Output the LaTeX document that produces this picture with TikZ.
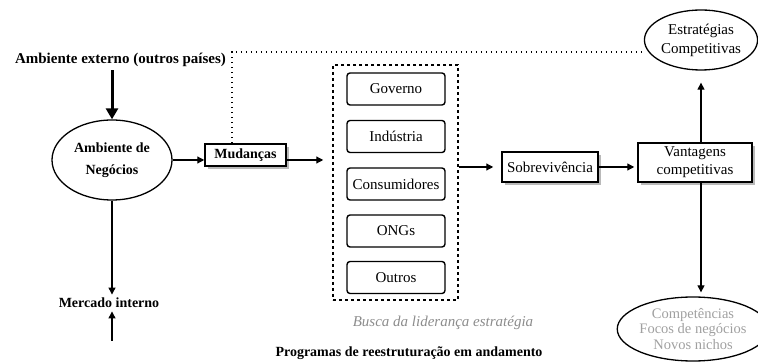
\documentclass[tikz,border=0pt]{standalone}
\usepackage{fontspec}
\setmainfont{Liberation Serif}
\usetikzlibrary{arrows.meta,shapes.geometric,shadows,calc}

\definecolor{softgray}{HTML}{8C8C8C}
\definecolor{lightgray}{HTML}{A0A0A0}

\begin{document}
\begin{tikzpicture}[x=1pt,y=-1pt,
  every node/.style={font=\fontsize{15}{18}\selectfont},
  conn/.style={line width=1.2pt,-{Triangle[length=7pt,width=7pt]}},
  thickconn/.style={line width=3pt,-{Triangle[length=11pt,width=12pt]}},
  dotline/.style={line width=1.5pt,dash pattern=on 1.5pt off 3.5pt},
  shadowbox/.style={draw,line width=1.5pt,fill=white,inner sep=0pt,align=center,
    drop shadow={shadow xshift=3pt,shadow yshift=-3pt,fill=gray!55,opacity=1}},
  actorbox/.style={draw,line width=1.4pt,rounded corners=3pt,inner sep=0pt,
    minimum width=98pt,minimum height=32pt},
  oval/.style={ellipse,draw,line width=1.3pt,inner sep=0pt,align=center},
]
\useasboundingbox (0,0) rectangle (758,363);

% left column: external environment, business environment, domestic market
\node[font=\bfseries\fontsize{15}{18}\selectfont] (ext) at (120.5,60) {Ambiente externo (outros países)};
\node[oval,minimum width=120pt,minimum height=80pt,
      font=\bfseries\fontsize{14}{22}\selectfont] (amb) at (112,160) {Ambiente de\\Negócios};
\node[font=\bfseries\fontsize{14}{17}\selectfont] (merc) at (109,303) {Mercado interno};
\coordinate (mbelow) at (112,341);

\draw[thickconn] (ext.south -| amb.north) -- (amb.north);
\draw[conn] (amb.south) -- (amb.south |- merc.north);
\draw[conn] (mbelow) -- (mbelow |- merc.south);

% changes
\node[shadowbox,minimum width=81pt,minimum height=22pt,
      font=\bfseries\fontsize{14}{17}\selectfont] (mud) at (245.5,155) {Mudanças};
\draw[conn] (amb.east) -- (amb.east -| mud.west);

% group of actors
\node[draw,line width=1.5pt,dash pattern=on 3pt off 3pt,
      minimum width=125pt,minimum height=235pt,inner sep=0pt] (grp) at (395.5,182.5) {};
\node[actorbox] (gov) at (396,89)    {Governo};
\node[actorbox] (ind) at (396,136.5) {Indústria};
\node[actorbox] (con) at (396,184)   {Consumidores};
\node[actorbox] (ong) at (396,231)   {ONGs};
\node[actorbox] (out) at (396,277.5) {Outros};
\draw[conn,shorten >=9pt] (mud.east |- amb.east) -- (amb.east -| grp.west);

% survival and competitive advantages
\node[shadowbox,minimum width=96pt,minimum height=30pt] (sob) at (550,167) {Sobrevivência};
\node[shadowbox,minimum width=114pt,minimum height=39pt,
      font=\fontsize{15}{18}\selectfont] (van) at (695,162.5) {Vantagens\\competitivas};
\draw[conn,shorten >=8pt] (grp.east |- sob.west) -- (sob.west);
\draw[conn,shorten >=3pt] (sob.east) -- (sob.east -| van.west);

% right column
\node[oval,minimum width=108pt,minimum height=60pt,
      font=\fontsize{15}{19}\selectfont] (est) at (701,40) {Estratégias\\Competitivas};
\node[oval,minimum width=124pt,minimum height=64pt,text=lightgray,
      font=\fontsize{14.5}{15.5}\selectfont] (comp) at (693,329) {Competências\\Focos de negócios\\Novos nichos};
\draw[conn,shorten >=12pt] (van.north -| est.south) -- (est.south);
\draw[conn,shorten >=4pt] (van.south -| est.south) -- (est.south |- comp.north);

% dotted feedback path from changes to strategies
\coordinate (bend) at (232,52);
\draw[dotline] (mud.north -| bend) -- (bend) -- (bend -| est.west);

% captions
\node[text=softgray,font=\itshape\fontsize{15}{18}\selectfont] (busca) at (443,323) {Busca da liderança estratégia};
\node[font=\bfseries\fontsize{14}{17}\selectfont] (prog) at (409,353) {Programas de reestruturação em andamento};
\end{tikzpicture}
\end{document}
